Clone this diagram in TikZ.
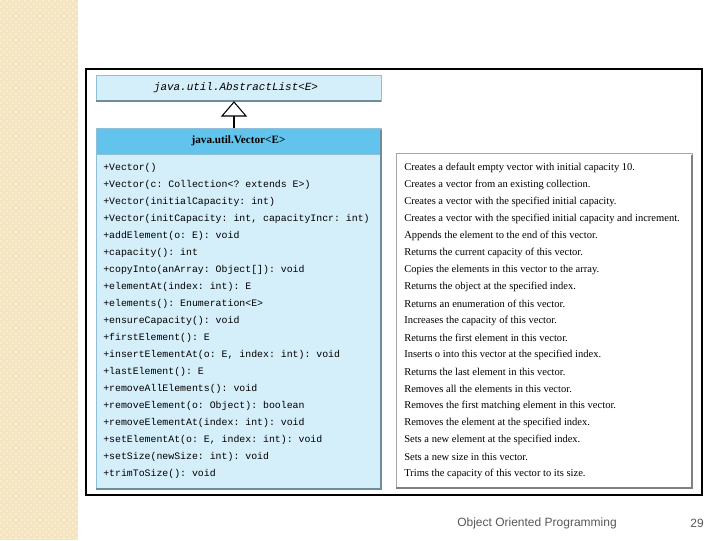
\documentclass[tikz,border=0pt]{standalone}
\usepackage{fontspec}
\setmainfont{Liberation Serif}
\setsansfont{Liberation Sans}
\setmonofont{Liberation Mono}
\begin{document}
\begin{tikzpicture}[x=0.75pt,y=-0.75pt,
  meth/.style={anchor=west,inner sep=0pt,font=\ttfamily\fontsize{7.4}{8}\selectfont},
  desc/.style={anchor=west,inner sep=0pt,font=\fontsize{7.9}{8}\selectfont},
  lightbox/.style={fill=boxlight,draw=boxedge,line width=0.4pt},
  shadowline/.style={draw=shade,line width=1.2pt}]
\definecolor{strip}{HTML}{F4E4C0}
\definecolor{boxlight}{HTML}{D4EEFA}
\definecolor{boxhead}{HTML}{62C4EC}
\definecolor{boxedge}{HTML}{8FBFD6}
\definecolor{shade}{HTML}{6E8C9C}
\definecolor{footgray}{HTML}{595959}
\useasboundingbox (0,0) rectangle (720,540);
\fill[white] (0,0) rectangle (720,540);
\fill[strip] (0,0) rectangle (78,540);
\foreach \i in {0,...,25}{\foreach \j in {0,...,179}{
  \pgfmathtruncatemacro\m{mod(\i+\j,2)}
  \ifnum\m=0 \fill[white,opacity=0.35] (\i*3,\j*3) rectangle ++(1.5,1.5);\fi}}
% frame
\draw[black,line width=2.2pt] (86,69) rectangle (702,495);
% AbstractList
\draw[lightbox] (96,75) rectangle (381,101);
\draw[shadowline] (96,101) -- (381,101);
\node[inner sep=0pt,font=\ttfamily\itshape\fontsize{8.2}{9}\selectfont] (abs) at (236,88) {java.util.AbstractList<E>};
\coordinate (absb) at (234,102);
% Vector header and body
\draw[fill=boxhead,draw=boxedge] (96,128) rectangle (381,154);
\node[inner sep=0pt,font=\bfseries\fontsize{8.4}{9}\selectfont] (vec) at (238.5,141) {java.util.Vector<E>};
\coordinate (vect) at (234,128);
\draw[lightbox] (96,154) rectangle (381,488);
\draw[shadowline] (96,489) -- (381,489) -- (381,130);
\draw[line width=0.8pt] (vect) -- ++(0,-12) coordinate (tip0);
\draw[line width=0.8pt,fill=white] (absb) -- ++(-12,14) -- ++(24,0) -- cycle;
% description box
\draw[fill=white,draw=gray!70] (396,153) rectangle (692,487);
\draw[shadowline,draw=gray] (396,488) -- (692,488) -- (692,155);
\foreach [count=\k] \m/\d in {
{+Vector()}/{Creates a default empty vector with initial capacity 10.},
{+Vector(c: Collection<? extends E>)}/{Creates a vector from an existing collection.},
{+Vector(initialCapacity: int)}/{Creates a vector with the specified initial capacity.},
{+Vector(initCapacity: int, capacityIncr: int)}/{Creates a vector with the specified initial capacity and increment.},
{+addElement(o: E): void}/{Appends the element to the end of this vector.},
{+capacity(): int}/{Returns the current capacity of this vector.},
{+copyInto(anArray: Object[]): void}/{Copies the elements in this vector to the array.},
{+elementAt(index: int): E}/{Returns the object at the specified index.},
{+elements(): Enumeration<E>}/{Returns an enumeration of this vector.},
{+ensureCapacity(): void}/{Increases the capacity of this vector.},
{+firstElement(): E}/{Returns the first element in this vector.},
{+insertElementAt(o: E, index: int): void}/{Inserts o into this vector at the specified index.},
{+lastElement(): E}/{Returns the last element in this vector.},
{+removeAllElements(): void}/{Removes all the elements in this vector.},
{+removeElement(o: Object): boolean}/{Removes the first matching element in this vector.},
{+removeElementAt(index: int): void}/{Removes the element at the specified index.},
{+setElementAt(o: E, index: int): void}/{Sets a new element at the specified index.},
{+setSize(newSize: int): void}/{Sets a new size in this vector.},
{+trimToSize(): void}/{Trims the capacity of this vector to its size.}}{
  \node[meth] (m\k) at (103,151+17*\k) {\m};
  \node[desc] (d\k) at (404,151+17*\k) {\d};
}
\node[font=\sffamily\fontsize{9}{10}\selectfont,text=footgray] (foot) at (537,523) {Object Oriented Programming};
\node[font=\sffamily\fontsize{9}{10}\selectfont,text=footgray] (pg) at (697,523) {29};
\end{tikzpicture}
\end{document}
